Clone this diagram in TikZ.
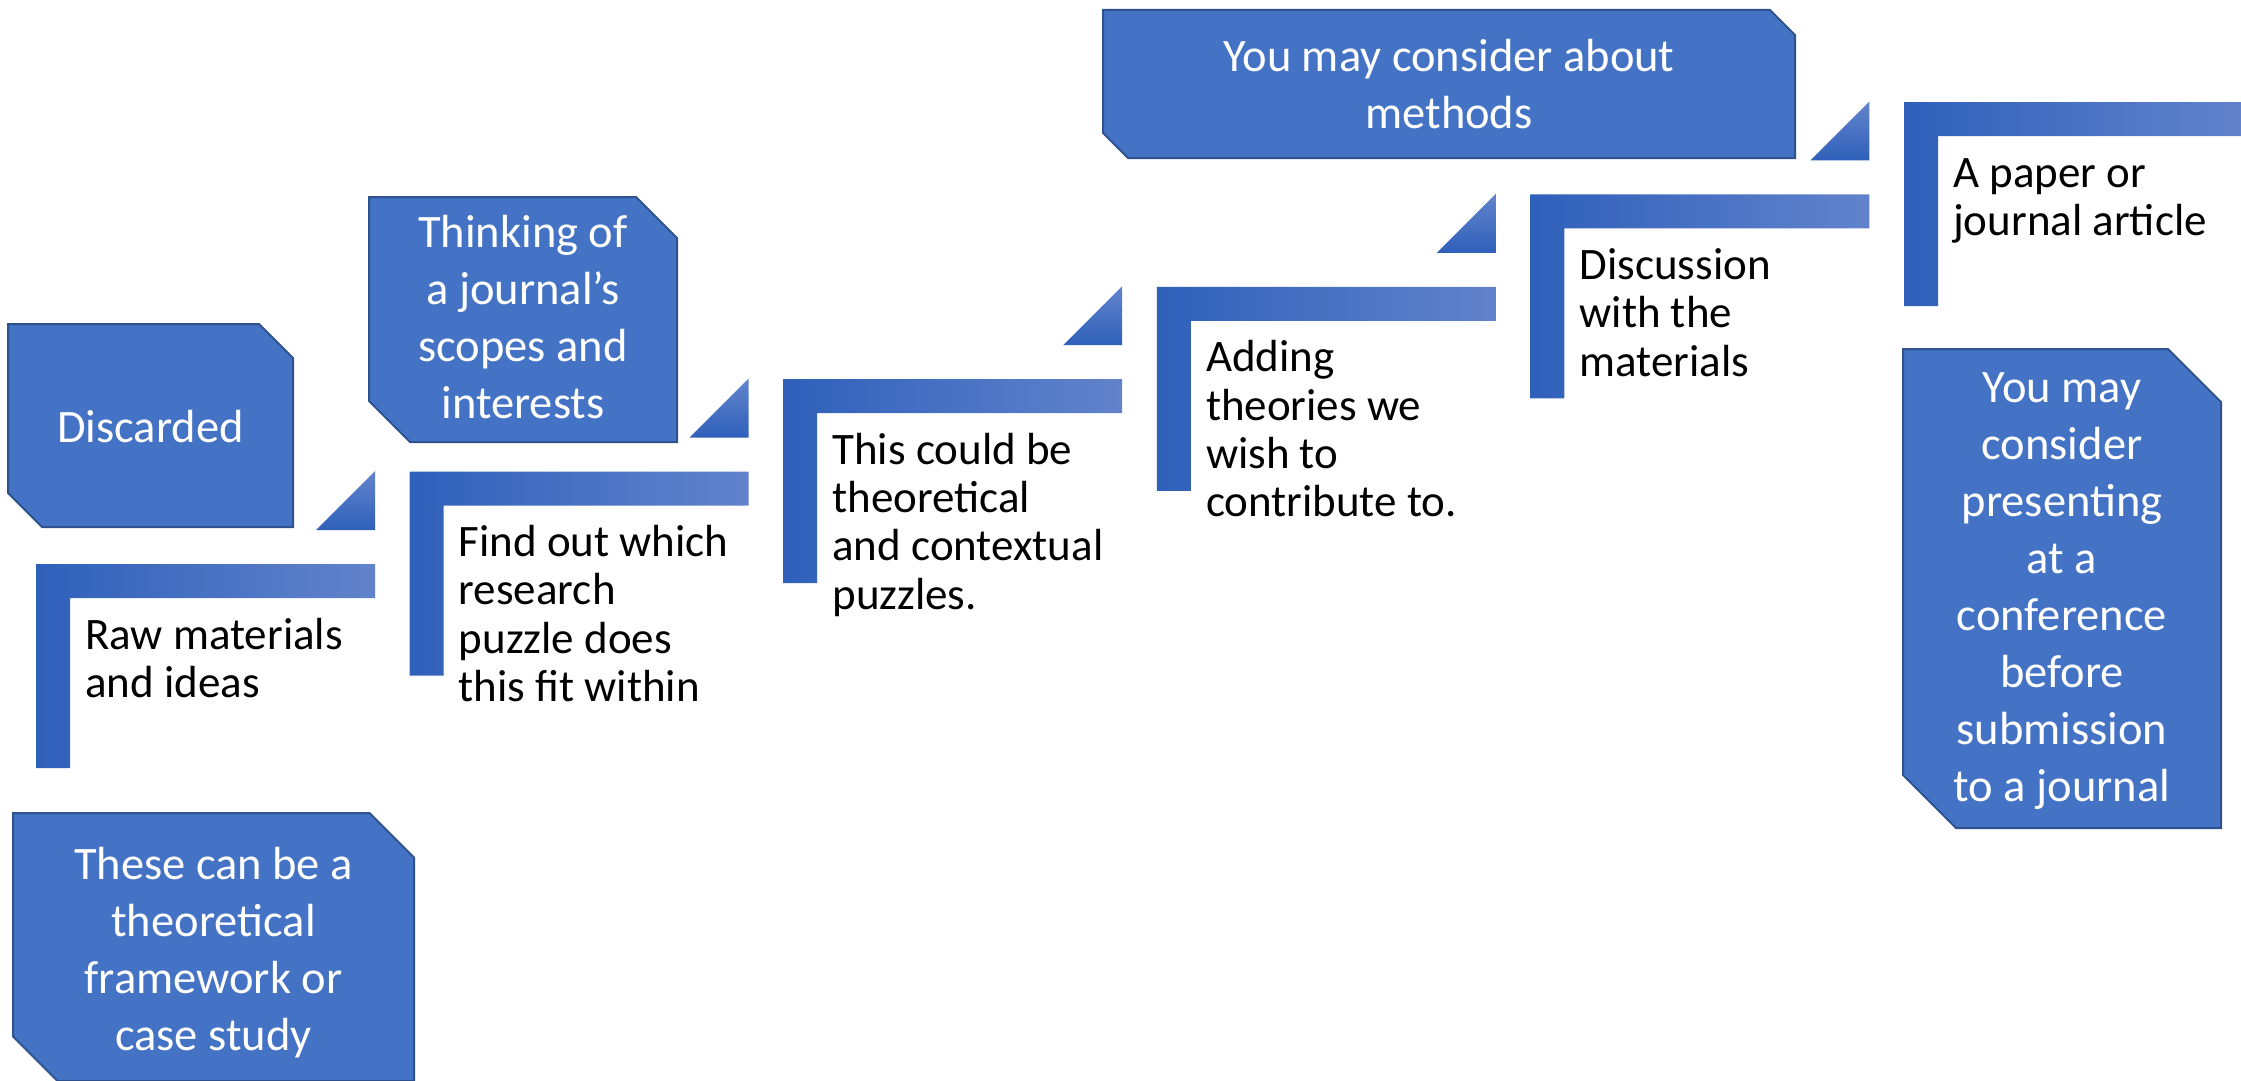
\documentclass[tikz,border=0pt]{standalone}
\usepackage{fontspec}
\setmainfont{Carlito}
\definecolor{boxfill}{HTML}{4472C4}
\definecolor{boxedge}{HTML}{2F528F}
\definecolor{ldark}{HTML}{2F60BA}
\definecolor{lmid}{HTML}{4473C9}
\definecolor{llight}{HTML}{6283CB}
\definecolor{tlight}{HTML}{6385CC}
\newcommand\mysnip[5]{%
  \draw[snipbox] (#1,#2) -- ({#1+#3-#5},#2) -- ({#1+#3},{#2+#5}) -- ({#1+#3},{#2+#4})
    -- ({#1+#5},{#2+#4}) -- (#1,{#2+#4-#5}) -- cycle;}
\begin{document}
\begin{tikzpicture}[x=1pt,y=-1pt,
  snipbox/.style={fill=boxfill,draw=boxedge,line width=2pt,line join=miter},
  lbar/.style={left color=ldark,middle color=lmid,right color=llight},
  tri/.style={top color=tlight,bottom color=ldark},
  wtext/.style={text=white,inner sep=0pt,anchor=base,font=\fontsize{46.5}{57}\selectfont},
  btext/.style={text=black,inner sep=0pt,anchor=base west,font=\fontsize{45}{48.3}\selectfont}]
\useasboundingbox (0,0) rectangle (2241,1081);
% L brackets
\foreach \i in {0,...,5}{
  \pgfmathsetmacro\lx{36+373.6*\i}
  \pgfmathsetmacro\ly{564-92.4*\i}
  \shade[lbar] (\lx,\ly) -- ++(339,0) -- ++(0,34) -- ++(-305,0) -- ++(0,170) -- ++(-34,0) -- cycle;
}
% triangles
\foreach \i in {0,...,4}{
  \pgfmathsetmacro\tx{36+373.6*\i+339}
  \pgfmathsetmacro\ty{564-92.4*\i-34}
  \shade[tri] (\tx,\ty) -- ++(-59,0) -- ++(59,-59) -- cycle;
}
% snipped boxes
\mysnip{8}{324}{285}{203}{34}
\mysnip{13}{813}{401}{268}{44.5}
\mysnip{369}{197}{308}{245}{41}
\mysnip{1103}{10}{692}{148}{25}
\mysnip{1903}{349}{318}{479}{53}
% white texts
\node[wtext] (discarded) at (150.5,442) {\begin{tabular}[t]{@{}c@{}}Discarded\end{tabular}};
\node[wtext] (framework) at (213.5,879) {\begin{tabular}[t]{@{}c@{}}These can be a\\theoretical\\framework or\\case study\end{tabular}};
\node[wtext] (journal) at (523,247) {\begin{tabular}[t]{@{}c@{}}Thinking of\\a journal’s\\scopes and\\interests\end{tabular}};
\node[wtext] (methods) at (1449,72) {\begin{tabular}[t]{@{}c@{}}You may consider about\\methods\end{tabular}};
\node[wtext] (conference) at (2062,402) {\begin{tabular}[t]{@{}c@{}}You may\\consider\\presenting\\at a\\conference\\before\\submission\\to a journal\end{tabular}};
% black texts
\node[btext] (raw) at (85,649) {\begin{tabular}[t]{@{}l@{}}Raw materials\\and ideas\end{tabular}};
\node[btext] (puzzle) at (458.6,556.6) {\begin{tabular}[t]{@{}l@{}}Find out which\\research\\puzzle does\\this fit within\end{tabular}};
\node[btext] (theory) at (832.2,464.2) {\begin{tabular}[t]{@{}l@{}}This could be\\theoretical\\and contextual\\puzzles.\end{tabular}};
\node[btext] (adding) at (1205.8,371.8) {\begin{tabular}[t]{@{}l@{}}Adding\\theories we\\wish to\\contribute to.\end{tabular}};
\node[btext] (discussion) at (1579.4,279.4) {\begin{tabular}[t]{@{}l@{}}Discussion\\with the\\materials\end{tabular}};
\node[btext] (paper) at (1953,187) {\begin{tabular}[t]{@{}l@{}}A paper or\\journal article\end{tabular}};
\end{tikzpicture}
\end{document}
